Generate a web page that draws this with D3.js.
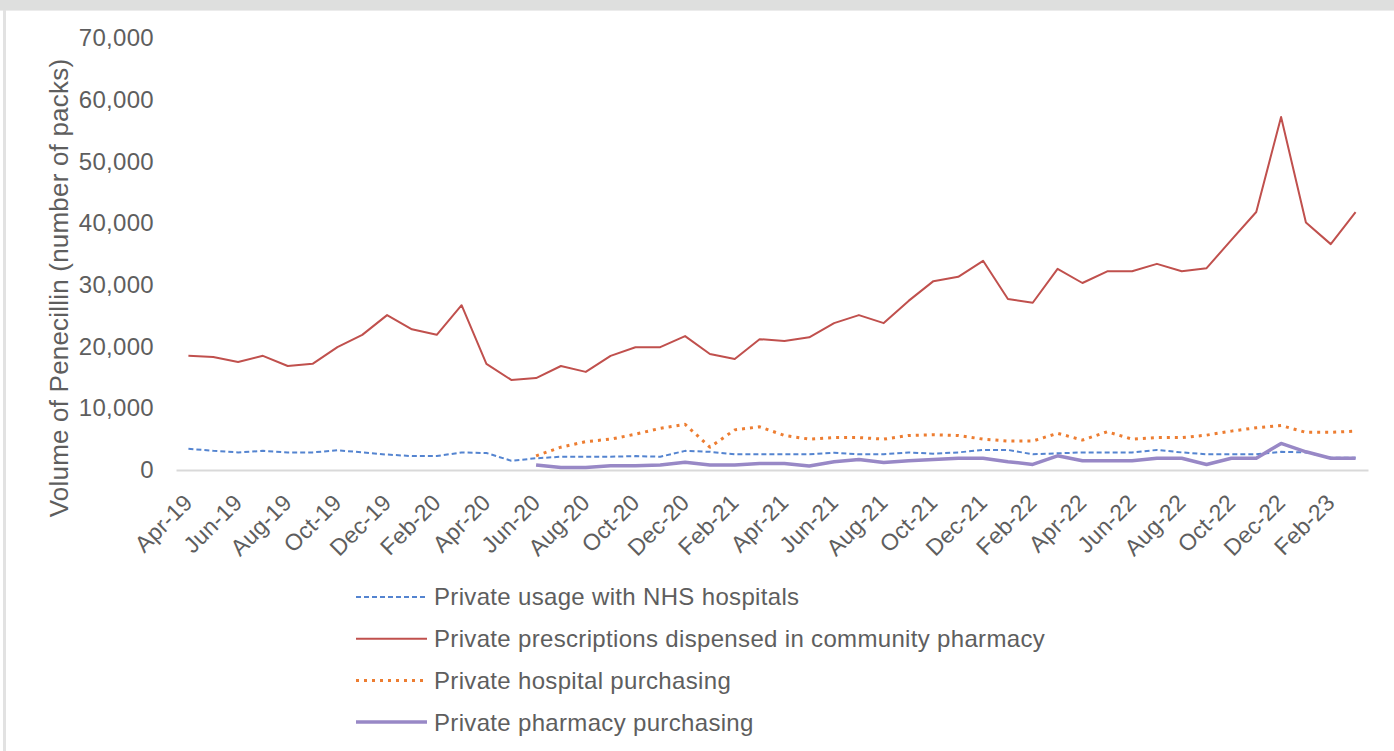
<!DOCTYPE html>
<html>
<head>
<meta charset="utf-8">
<script src="https://cdn.jsdelivr.net/npm/d3@7"></script>
<style>
  html, body { margin: 0; padding: 0; background: #ffffff; }
  svg { display: block; }
  text { font-family: "Liberation Sans", Arial, sans-serif; fill: #5e5e5e; }
</style>
</head>
<body>
<svg id="chart" width="1394" height="751"></svg>
<script>
// ---- data ----
const months = [
  "Apr-19","May-19","Jun-19","Jul-19","Aug-19","Sep-19","Oct-19","Nov-19","Dec-19","Jan-20","Feb-20","Mar-20",
  "Apr-20","May-20","Jun-20","Jul-20","Aug-20","Sep-20","Oct-20","Nov-20","Dec-20","Jan-21","Feb-21","Mar-21",
  "Apr-21","May-21","Jun-21","Jul-21","Aug-21","Sep-21","Oct-21","Nov-21","Dec-21","Jan-22","Feb-22","Mar-22",
  "Apr-22","May-22","Jun-22","Jul-22","Aug-22","Sep-22","Oct-22","Nov-22","Dec-22","Jan-23","Feb-23","Mar-23"
];
const tickLabels = months.filter((m, i) => i % 2 === 0);
const yTicks = [0, 10000, 20000, 30000, 40000, 50000, 60000, 70000];

const seriesNames = [
  "Private usage with NHS hospitals",
  "Private prescriptions dispensed in community pharmacy",
  "Private hospital purchasing",
  "Private pharmacy purchasing"
];

// Private usage with NHS hospitals
const nhsUsage = [
  3450, 3100, 2850, 3100, 2850, 2850, 3200, 2850, 2500, 2250, 2250, 2850,
  2750, 1500, 1900, 2150, 2150, 2150, 2250, 2150, 3100, 2950, 2550, 2550,
  2550, 2550, 2800, 2550, 2550, 2850, 2650, 2850, 3250, 3250, 2550, 2700,
  2850, 2850, 2850, 3250, 2850, 2550, 2550, 2550, 2950, 2850, 2000, 2000
];
// Private prescriptions dispensed in community pharmacy
const communityPharmacy = [
  18500, 18300, 17500, 18500, 16850, 17200, 19900, 21900, 25100, 22800, 21900, 26700,
  17200, 14600, 14900, 16850, 15900, 18500, 19900, 19900, 21700, 18800, 18000, 21200,
  20900, 21500, 23800, 25100, 23800, 27400, 30600, 31300, 33900, 27700, 27100, 32600,
  30300, 32200, 32200, 33400, 32200, 32700, 37300, 41800, 57200, 40100, 36600, 41800
];
// Private hospital purchasing (starts Jun-20)
const hospitalPurchasing = [
  null, null, null, null, null, null, null, null, null, null, null, null,
  null, null, 2300, 3700, 4600, 5000, 5800, 6750, 7400, 3700, 6500, 7000,
  5600, 5000, 5250, 5250, 5000, 5600, 5700, 5600, 5000, 4700, 4700, 5950,
  4850, 6200, 5000, 5250, 5250, 5650, 6300, 6850, 7200, 6100, 6100, 6300
];
// Private pharmacy purchasing (starts Jun-20)
const pharmacyPurchasing = [
  null, null, null, null, null, null, null, null, null, null, null, null,
  null, null, 800, 400, 400, 700, 700, 800, 1250, 800, 800, 1050,
  1050, 650, 1350, 1700, 1200, 1500, 1700, 1900, 1900, 1350, 900, 2300,
  1500, 1500, 1500, 1900, 1900, 900, 1900, 1900, 4300, 2950, 1900, 1900
];

const seriesData = [nhsUsage, communityPharmacy, hospitalPurchasing, pharmacyPurchasing];
const seriesStyle = [
  { color: "#5484d0", width: 2,   dash: "5,3" },
  { color: "#c0504d", width: 2,   dash: null },
  { color: "#ed7d31", width: 3,   dash: "3,5" },
  { color: "#9888c6", width: 3.5, dash: null }
];

// ---- layout ----
const svg = d3.select("#chart");
const FONT = "'Liberation Sans', Arial, sans-serif";

// frame
svg.append("rect").attr("x", 0).attr("y", 0).attr("width", 1394).attr("height", 10).attr("fill", "#dedfde");
svg.append("rect").attr("x", 0).attr("y", 10).attr("width", 1394).attr("height", 1).attr("fill", "#ececec");
svg.append("rect").attr("x", 3).attr("y", 10).attr("width", 3).attr("height", 741).attr("fill", "#e2e2e2");

const x = d3.scalePoint().domain(months).range([176, 1368]).padding(0.5);
const y = d3.scaleLinear().domain([0, 70000]).range([470, 38]);

// y axis
const yAxis = svg.append("g")
  .attr("transform", "translate(176,0)")
  .call(d3.axisLeft(y).tickValues(yTicks).tickSize(0).tickPadding(22).tickFormat(d3.format(",")));
yAxis.select(".domain").remove();
yAxis.selectAll("text").style("font-size", "24px").style("fill", "#5e5e5e")
  .style("font-family", FONT).style("letter-spacing", "0.3px");

// x axis
const xAxis = svg.append("g")
  .attr("transform", "translate(0,470)")
  .call(d3.axisBottom(x).tickValues(tickLabels).tickSize(0).tickSizeOuter(0));
xAxis.select(".domain").attr("stroke", "#d9d9d9").attr("stroke-width", 2);
xAxis.selectAll("text")
  .style("font-size", "23px").style("fill", "#5e5e5e")
  .style("font-family", FONT).style("letter-spacing", "0.2px")
  .attr("text-anchor", "end")
  .attr("dy", null).attr("y", 0)
  .attr("transform", "translate(5,34) rotate(-45)");

// y title
svg.append("text")
  .attr("transform", "translate(68,288) rotate(-90)")
  .attr("text-anchor", "middle")
  .style("font-size", "26px")
  .style("letter-spacing", "0.2px")
  .text("Volume of Penecillin (number of packs)");

// lines
const line = d3.line()
  .defined(d => d != null)
  .x((d, i) => x(months[i]))
  .y(d => y(d));

seriesData.forEach((data, k) => {
  const st = seriesStyle[k];
  svg.append("path")
    .datum(data)
    .attr("fill", "none")
    .attr("stroke", st.color)
    .attr("stroke-width", st.width)
    .attr("stroke-dasharray", st.dash)
    .attr("stroke-linejoin", "round")
    .attr("d", line);
});

// legend
const legend = svg.append("g");
seriesNames.forEach((name, k) => {
  const st = seriesStyle[k];
  const cy = 597 + k * 41.7;
  legend.append("line")
    .attr("x1", 356).attr("x2", 427).attr("y1", cy).attr("y2", cy)
    .attr("stroke", st.color).attr("stroke-width", st.width)
    .attr("stroke-dasharray", st.dash);
  legend.append("text")
    .attr("x", 434).attr("y", cy).attr("dy", "0.35em")
    .style("font-size", "24px")
    .style("letter-spacing", "0.33px")
    .text(name);
});
</script>
</body>
</html>
